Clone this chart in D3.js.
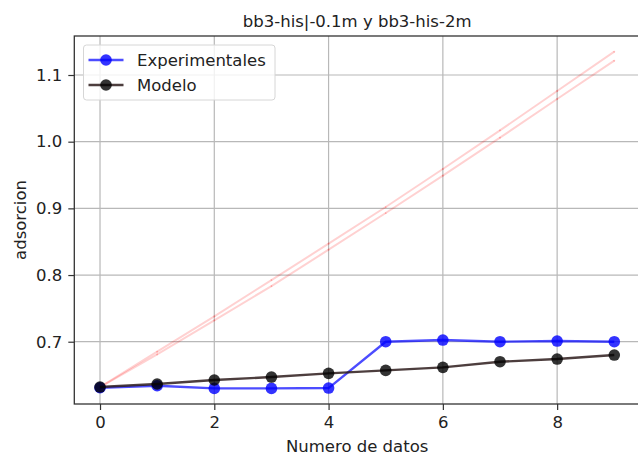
<!DOCTYPE html>
<html>
<head>
<meta charset="utf-8">
<script src="https://cdn.jsdelivr.net/npm/d3@7"></script>
<style>
  body { margin: 0; background: #fff; }
  text { font-family: 'DejaVu Sans', sans-serif; fill: #222; }
</style>
</head>
<body>
<svg id="chart" width="638" height="456"></svg>
<script>
// data
const xs = [0, 1, 2, 3, 4, 5, 6, 7, 8, 9]
const experimentales = [0.631, 0.634, 0.630, 0.630, 0.6305, 0.700, 0.7025, 0.700, 0.701, 0.700]
const modelo = [0.632, 0.6366, 0.6426, 0.647, 0.6526, 0.657, 0.6616, 0.670, 0.674, 0.680]
const rojoA = [0.632, 0.685, 0.738, 0.7925, 0.847, 0.902, 0.959, 1.017, 1.076, 1.135]
const rojoB = [0.632, 0.681, 0.732, 0.7835, 0.838, 0.893, 0.949, 1.006, 1.064, 1.1215]
const xTicks = [0, 2, 4, 6, 8]
const yTicks = [0.7, 0.8, 0.9, 1.0, 1.1]
const title = 'bb3-his|-0.1m y bb3-his-2m'

const width = 638
const height = 456
const margin = { top: 36, right: -2, bottom: 52, left: 74.3 }
const fontSize = 16.5

const svg = d3.select('#chart')

const xScale = d3.scaleLinear()
  .domain([-0.45, 9.45])
  .range([margin.left, width - margin.right])
const yScale = d3.scaleLinear()
  .domain([0.6066, 1.1585])
  .range([height - margin.bottom, margin.top])

const x0 = xScale.range()[0], x1 = xScale.range()[1]
const y0 = yScale.range()[0], y1 = yScale.range()[1]

svg.append('clipPath').attr('id', 'plotArea')
  .append('rect')
  .attr('x', x0).attr('y', y1)
  .attr('width', x1 - x0).attr('height', y0 - y1)

// grid
const grid = svg.append('g').attr('id', 'grid')
grid.selectAll('line.gx').data(xTicks).join('line')
  .attr('x1', d => xScale(d)).attr('x2', d => xScale(d))
  .attr('y1', y1).attr('y2', y0)
  .attr('stroke', '#b8b8b8').attr('stroke-width', 1.2)
grid.selectAll('line.gy').data(yTicks).join('line')
  .attr('x1', x0).attr('x2', x1)
  .attr('y1', d => yScale(d)).attr('y2', d => yScale(d))
  .attr('stroke', '#b8b8b8').attr('stroke-width', 1.2)

const plot = svg.append('g').attr('clip-path', 'url(#plotArea)')

const line = d3.line()
  .x((d, i) => xScale(xs[i]))
  .y(d => yScale(d))

// faint red curves
;[rojoA, rojoB].forEach(serie => {
  plot.append('path')
    .attr('d', line(serie))
    .attr('fill', 'none')
    .attr('stroke', 'red')
    .attr('stroke-opacity', 0.18)
    .attr('stroke-width', 2)
  plot.append('g').selectAll('circle').data(serie).join('circle')
    .attr('cx', (d, i) => xScale(xs[i]))
    .attr('cy', d => yScale(d))
    .attr('r', 0.9)
    .attr('fill', 'red')
    .attr('fill-opacity', 0.25)
})

// experimental series
plot.append('path')
  .attr('d', line(experimentales))
  .attr('fill', 'none')
  .attr('stroke', 'blue')
  .attr('stroke-opacity', 0.7)
  .attr('stroke-width', 2.4)
plot.append('g').selectAll('circle').data(experimentales).join('circle')
  .attr('cx', (d, i) => xScale(xs[i]))
  .attr('cy', d => yScale(d))
  .attr('r', 5.8)
  .attr('fill', 'blue')
  .attr('fill-opacity', 0.8)

// model series
plot.append('path')
  .attr('d', line(modelo))
  .attr('fill', 'none')
  .attr('stroke', '#2e1c1c')
  .attr('stroke-opacity', 0.85)
  .attr('stroke-width', 2.4)
plot.append('g').selectAll('circle').data(modelo).join('circle')
  .attr('cx', (d, i) => xScale(xs[i]))
  .attr('cy', d => yScale(d))
  .attr('r', 5.8)
  .attr('fill', '#000')
  .attr('fill-opacity', 0.8)

// axes
const xAxis = svg.append('g')
  .attr('transform', `translate(0,${y0})`)
  .call(d3.axisBottom(xScale).tickValues(xTicks).tickSize(6).tickPadding(6).tickSizeOuter(0).tickFormat(d3.format('d')))
const yAxis = svg.append('g')
  .attr('transform', `translate(${x0},0)`)
  .call(d3.axisLeft(yScale).tickValues(yTicks).tickSize(6).tickPadding(6).tickSizeOuter(0).tickFormat(d3.format('.1f')))
;[xAxis, yAxis].forEach(ax => {
  ax.select('.domain').remove()
  ax.selectAll('.tick line').attr('stroke', '#333').attr('stroke-width', 1.2)
  ax.selectAll('.tick text').attr('font-size', fontSize).attr('font-family', 'DejaVu Sans').attr('fill', '#222')
})

// spines
svg.append('rect')
  .attr('x', x0).attr('y', y1)
  .attr('width', x1 - x0).attr('height', y0 - y1)
  .attr('fill', 'none')
  .attr('stroke', '#333')
  .attr('stroke-width', 1.3)

// title and axis labels
svg.append('text')
  .attr('x', (x0 + x1) / 2).attr('y', 27)
  .attr('text-anchor', 'middle')
  .attr('font-size', fontSize)
  .text(title)
svg.append('text')
  .attr('x', (x0 + x1) / 2).attr('y', 452)
  .attr('text-anchor', 'middle')
  .attr('font-size', fontSize)
  .text('Numero de datos')
svg.append('text')
  .attr('transform', `translate(26,${(y0 + y1) / 2}) rotate(-90)`)
  .attr('text-anchor', 'middle')
  .attr('font-size', fontSize)
  .text('adsorcion')

// legend
const legendItems = [
  { label: 'Experimentales', stroke: 'blue', strokeOpacity: 0.7, fill: 'blue', fillOpacity: 0.8 },
  { label: 'Modelo', stroke: '#2e1c1c', strokeOpacity: 0.85, fill: '#000', fillOpacity: 0.8 },
]
const legend = svg.append('g').attr('id', 'legend')
legend.append('rect')
  .attr('x', 83.5).attr('y', 45)
  .attr('width', 191.5).attr('height', 55)
  .attr('rx', 3)
  .attr('fill', '#fff').attr('fill-opacity', 0.8)
  .attr('stroke', '#d6d6d6').attr('stroke-width', 1)
const items = legend.selectAll('g.item').data(legendItems).join('g')
  .attr('transform', (d, i) => `translate(0,${60 + i * 25})`)
items.append('line')
  .attr('x1', 88.5).attr('x2', 123.5)
  .attr('stroke', d => d.stroke)
  .attr('stroke-opacity', d => d.strokeOpacity)
  .attr('stroke-width', 2.4)
items.append('circle')
  .attr('cx', 106).attr('r', 5.8)
  .attr('fill', d => d.fill)
  .attr('fill-opacity', d => d.fillOpacity)
items.append('text')
  .attr('x', 137).attr('y', 6)
  .attr('font-size', fontSize)
  .text(d => d.label)
</script>
</body>
</html>
